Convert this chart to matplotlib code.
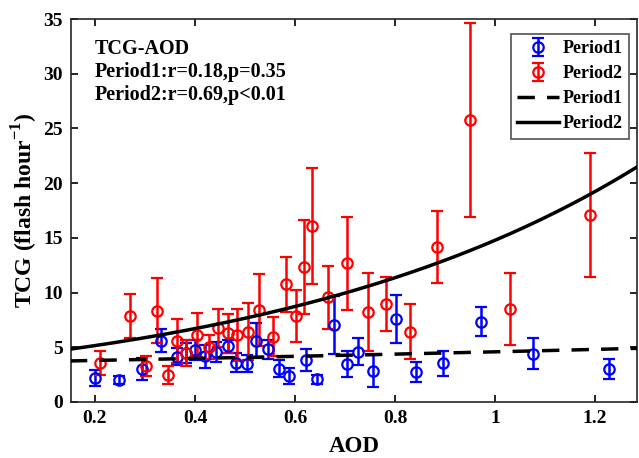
import matplotlib.pyplot as plt
import numpy as np

plt.rcParams['font.family'] = ['Liberation Serif', 'DejaVu Serif']
plt.rcParams['font.weight'] = 'bold'
plt.rcParams['mathtext.fontset'] = 'custom'
plt.rcParams['mathtext.rm'] = 'Liberation Serif:bold'
plt.rcParams['mathtext.bf'] = 'Liberation Serif:bold'

# Period1 (blue) - AOD, TCG, error
aod1 = [0.200, 0.249, 0.295, 0.333, 0.365, 0.383, 0.400, 0.421, 0.443, 0.466,
        0.483, 0.504, 0.523, 0.546, 0.568, 0.588, 0.622, 0.645, 0.677, 0.703,
        0.725, 0.755, 0.801, 0.842, 0.895, 0.971, 1.075, 1.228]
tcg1 = [2.17, 2.0, 3.0, 5.6, 4.14, 4.5, 4.75, 4.2, 4.6, 5.1,
        3.6, 3.5, 5.6, 4.8, 3.05, 2.35, 3.84, 2.07, 7.04, 3.5,
        4.6, 2.85, 7.55, 2.75, 3.52, 7.35, 4.42, 3.0]
err1 = [0.75, 0.4, 1.0, 1.05, 0.8, 0.9, 0.9, 1.05, 0.9, 0.6,
        0.9, 0.8, 1.6, 0.9, 0.8, 0.75, 1.0, 0.4, 2.65, 1.2,
        1.25, 1.45, 2.2, 0.9, 1.15, 1.3, 1.4, 0.9]

# Period2 (red)
aod2 = [0.211, 0.271, 0.302, 0.325, 0.347, 0.365, 0.383, 0.404, 0.428, 0.447,
        0.467, 0.485, 0.507, 0.529, 0.556, 0.582, 0.602, 0.618, 0.635, 0.667,
        0.703, 0.745, 0.782, 0.829, 0.883, 0.950, 1.029, 1.190]
tcg2 = [3.54, 7.86, 3.29, 8.35, 2.47, 5.6, 4.48, 6.12, 5.05, 6.73,
        6.27, 6.12, 6.43, 8.4, 5.97, 10.76, 7.86, 12.35, 16.1, 9.56,
        12.7, 8.22, 8.96, 6.43, 14.14, 25.77, 8.5, 17.1]
err2 = [1.1, 2.05, 0.95, 2.95, 0.8, 2.0, 1.2, 2.0, 1.1, 1.75,
        1.75, 2.35, 2.6, 3.3, 1.8, 2.5, 2.4, 4.3, 5.3, 2.85,
        4.25, 3.55, 2.5, 2.5, 3.3, 8.9, 3.25, 5.7]

# exponential fits y = a*exp(b*x)
fit1 = (3.62, 0.236)
fit2 = (3.96, 1.317)

fig = plt.figure(figsize=(6.39, 4.58), dpi=100)
ax = fig.add_axes([0.111, 0.1223, 0.886, 0.8362])

blue = '#0000ff'
red = '#ff0000'
h1 = ax.errorbar(aod1, tcg1, yerr=err1, fmt='o', color=blue, mfc='none', mec=blue,
                 ms=7.5, mew=1.6, elinewidth=1.8, capsize=4, capthick=1.8,
                 label='Period1', zorder=3)
h2 = ax.errorbar(aod2, tcg2, yerr=err2, fmt='o', color=red, mfc='none', mec=red,
                 ms=7.5, mew=1.6, elinewidth=1.8, capsize=4, capthick=1.8,
                 label='Period2', zorder=3)

xx = np.linspace(0.15, 1.3, 200)
h3, = ax.plot(xx, fit1[0] * np.exp(fit1[1] * xx), color='black', lw=2.5,
              ls=(0, (5, 3.5)), label='Period1', zorder=4)
h4, = ax.plot(xx, fit2[0] * np.exp(fit2[1] * xx), color='black', lw=2.5,
              ls='-', label='Period2', zorder=4)

ax.set_xlim(0.152, 1.284)
ax.set_ylim(0, 35)
ax.set_xticks([0.2, 0.4, 0.6, 0.8, 1.0, 1.2])
ax.set_xticklabels(['0.2', '0.4', '0.6', '0.8', '1', '1.2'])
ax.set_yticks(range(0, 36, 5))
ax.tick_params(direction='in', top=True, right=True, labelsize=14,
               width=1.2, length=5, pad=6)
for s in ax.spines.values():
    s.set_linewidth(1.2)
    s.set_color('#262626')

ax.set_xlabel('AOD', fontsize=16.5, fontweight='bold', labelpad=6)
ax.set_ylabel(r'TCG (flash hour$^{\mathbf{-1}}$)', fontsize=17,
              fontweight='bold', labelpad=2)

ax.text(0.042, 0.948, 'TCG-AOD\nPeriod1:r=0.18,p=0.35\nPeriod2:r=0.69,p<0.01',
        transform=ax.transAxes, fontsize=14.5, fontweight='bold', va='top',
        linespacing=1.2)

leg = ax.legend([h1, h2, h3, h4], ['Period1', 'Period2', 'Period1', 'Period2'],
                loc='upper right', bbox_to_anchor=(0.985, 0.962), fontsize=13,
                frameon=True, fancybox=False, edgecolor='#262626',
                handlelength=2.3, handletextpad=0.2, borderpad=0.35,
                labelspacing=0.45, borderaxespad=0)
leg.get_frame().set_linewidth(1.2)

fig.savefig('out.png', dpi=100)
